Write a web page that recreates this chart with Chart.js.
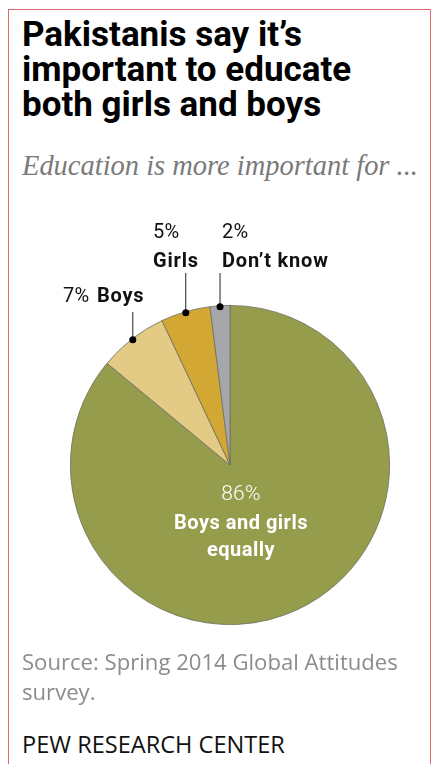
<!DOCTYPE html>
<html>
<head>
<meta charset="utf-8">
<script src="https://cdn.jsdelivr.net/npm/chart.js@4.4.0/dist/chart.umd.min.js"></script>
<style>
  html, body { margin: 0; padding: 0; background: #fff; }
  body { width: 433px; height: 764px; position: relative; overflow: hidden; }
  .frame { position: absolute; left: 8px; top: 9px; width: 423px; height: 780px;
           border: 1.5px solid #e0676c; box-sizing: border-box; }
  .title { position: absolute; left: 22px; top: 17px; font-family: Roboto, "Liberation Sans", sans-serif;
           font-weight: 700; font-size: 35px; line-height: 35px; color: #000; letter-spacing: 0px; }
  .subtitle { position: absolute; left: 22px; top: 152px; font-family: "Liberation Serif", serif;
              font-style: italic; font-size: 28px; line-height: 1; color: #7a7a7a; white-space: nowrap; }
  .source { position: absolute; left: 22px; top: 646px; font-family: "Open Sans", sans-serif;
            font-size: 19.5px; line-height: 30px; color: #8c8c8c; }
  .brand { position: absolute; left: 22px; top: 729px; font-family: "Open Sans", sans-serif;
           font-size: 18.5px; line-height: 30px; color: #111; }
  .fit { white-space: nowrap; display: inline-block; }
  .chartbox { position: absolute; left: 0; top: 200px; width: 433px; height: 460px; }
</style>
</head>
<body>
<div class="frame"></div>
<div class="title">Pakistanis say it’s<br>important to educate<br>both girls and boys</div>
<div class="subtitle"><span class="fit" id="sub">Education is more important for ...</span></div>
<div class="chartbox"><canvas id="pie"></canvas></div>
<div class="source" id="srcbox"><span class="fit" id="src1">Source: Spring 2014 Global Attitudes</span><br>survey.</div>
<div class="brand"><span class="fit" id="brand">PEW RESEARCH CENTER</span></div>

<script>
// data
const categories = ['Boys and girls equally', 'Boys', 'Girls', "Don’t know"];
const shares = [86, 7, 5, 2];
const sliceColors = ['#959c4b', '#e3cb86', '#d3a733', '#a6a7aa'];

// where the outside labels sit (page y for line tops and baselines, x for text starts)
const calloutLayout = [
    null,
    { lineTop: 312, pctX: 63, nameX: 97, pctY: 302, nameY: 302 },
    { lineTop: 273, pctX: 153, nameX: 153, pctY: 238, nameY: 267 },
    { lineTop: 273, pctX: 222, nameX: 222, pctY: 238, nameY: 267 }
];

const chartTop = 200;

// stretch a few text lines so they span the same width as in the original
function fitTo(id, target, box) {
    const el = document.getElementById(id);
    const holder = box ? document.getElementById(box) : el.parentNode;
    const w = el.getBoundingClientRect().width;
    const fs = parseFloat(getComputedStyle(holder).fontSize);
    holder.style.fontSize = (fs * target / w) + 'px';
}
fitTo('sub', 396);
fitTo('src1', 376, 'srcbox');
fitTo('brand', 263);

const calloutPlugin = {
    id: 'callouts',
    afterDatasetsDraw(chart) {
        const ctx = chart.ctx;
        const meta = chart.getDatasetMeta(0);
        ctx.save();
        meta.data.forEach((arc, i) => {
            const p = arc.getProps(['x', 'y', 'startAngle', 'endAngle', 'outerRadius'], true);
            const mid = (p.startAngle + p.endAngle) / 2;
            if (i === 0) {
                // big slice label, inside
                const cx = p.x + 11;
                ctx.fillStyle = '#fff';
                ctx.textAlign = 'center';
                ctx.textBaseline = 'alphabetic';
                ctx.letterSpacing = '0.3px';
                ctx.font = '300 21px Roboto, sans-serif';
                ctx.fillText(shares[i] + '%', cx, 500 - chartTop);
                ctx.letterSpacing = '0.5px';
                ctx.font = 'bold 20px Roboto, sans-serif';
                ctx.fillText('Boys and girls', cx, 529 - chartTop);
                ctx.fillText('equally', cx, 556 - chartTop);
                return;
            }
            const lay = calloutLayout[i];
            const dx = p.x + Math.cos(mid) * (p.outerRadius - 1);
            const dy = p.y + Math.sin(mid) * (p.outerRadius - 1);
            ctx.strokeStyle = '#222';
            ctx.lineWidth = 1;
            ctx.beginPath();
            ctx.moveTo(dx, dy);
            ctx.lineTo(dx, lay.lineTop - chartTop);
            ctx.stroke();
            ctx.fillStyle = '#000';
            ctx.beginPath();
            ctx.arc(dx, dy, 3.5, 0, Math.PI * 2);
            ctx.fill();

            ctx.textAlign = 'left';
            ctx.textBaseline = 'alphabetic';
            ctx.fillStyle = '#111';
            ctx.letterSpacing = '0.3px';
            ctx.font = '400 20px Roboto, sans-serif';
            ctx.fillText(shares[i] + '%', lay.pctX, lay.pctY - chartTop);
            ctx.letterSpacing = '0.8px';
            ctx.font = 'bold 20px Roboto, sans-serif';
            ctx.fillText(categories[i], lay.nameX, lay.nameY - chartTop);
        });
        ctx.restore();
    }
};

new Chart(document.getElementById('pie'), {
    type: 'pie',
    data: {
        labels: categories,
        datasets: [{
            data: shares,
            backgroundColor: sliceColors,
            borderColor: '#6e6e60',
            borderWidth: 0.8
        }]
    },
    options: {
        responsive: true,
        maintainAspectRatio: false,
        animation: false,
        layout: { padding: { left: 70, right: 43, top: 105, bottom: 35 } },
        plugins: {
            legend: { display: false },
            tooltip: { enabled: false }
        }
    },
    plugins: [calloutPlugin]
});
</script>
</body>
</html>
